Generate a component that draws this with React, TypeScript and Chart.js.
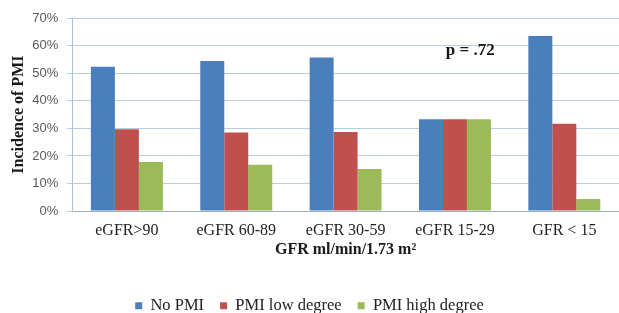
import React, { useEffect, useRef } from "react";
import { Chart, registerables } from "chart.js";

Chart.register(...registerables);

const categories = ["eGFR>90", "eGFR 60-89", "eGFR 30-59", "eGFR 15-29", "GFR < 15"];
const noPmi = [52.3, 54.4, 55.7, 33.3, 63.5];
const pmiLow = [29.7, 28.5, 28.7, 33.3, 31.7];
const pmiHigh = [17.8, 16.8, 15.3, 33.3, 4.4];
const seriesNames = ["No PMI", "PMI low degree", "PMI high degree"];
const yTicks = [0, 10, 20, 30, 40, 50, 60, 70];
const xTitle = "GFR ml/min/1.73 m²";
const yTitle = "Incidence of PMI";
const pValueText = "p = .72";
const pValueAt = { x: 3.14, y: 58.3 };

const SERIF = "'Liberation Serif', 'Times New Roman', serif";
const SANS = "'Liberation Sans', Arial, sans-serif";

const pValuePlugin = {
  id: "pValue",
  afterDraw(chart: any) {
    const { ctx, scales } = chart;
    const x = scales.x.getPixelForValue(pValueAt.x);
    const y = scales.y.getPixelForValue(pValueAt.y);
    ctx.save();
    ctx.font = `bold 17px ${SERIF}`;
    ctx.fillStyle = "#151515";
    ctx.textAlign = "center";
    ctx.textBaseline = "middle";
    ctx.fillText(pValueText, x, y);
    ctx.restore();
  },
};

export default function App() {
  const ref = useRef<HTMLCanvasElement>(null);
  useEffect(() => {
    if (!ref.current) return;
    const chart = new Chart(ref.current, {
      type: "bar",
      data: {
        labels: categories,
        datasets: [
          { label: seriesNames[0], data: noPmi, backgroundColor: "#4a7ebd" },
          { label: seriesNames[1], data: pmiLow, backgroundColor: "#c0504d" },
          { label: seriesNames[2], data: pmiHigh, backgroundColor: "#9bbb59" },
        ],
      },
      options: {
        responsive: false,
        animation: false,
        layout: { padding: { top: 18, bottom: -11, left: 0, right: 0 } },
        datasets: { bar: { categoryPercentage: 0.658, barPercentage: 1 } },
        plugins: {
          tooltip: { enabled: false },
          legend: {
            position: "bottom",
            labels: {
              boxWidth: 7,
              boxHeight: 7,
              padding: 16,
              color: "#222",
              font: { family: SERIF, size: 16.5 },
            },
          },
        },
        scales: {
          x: {
            grid: { display: false, drawTicks: false },
            border: { color: "#9db3c8", width: 1 },
            ticks: { color: "#222", padding: 10, font: { family: SERIF, size: 16 } },
            title: {
              display: true,
              text: xTitle,
              color: "#1a1a1a",
              font: { family: SERIF, size: 16, weight: "bold" },
              padding: { top: -10, bottom: 22 },
            },
          },
          y: {
            min: 0,
            max: 70,
            afterBuildTicks(scale: any) {
              scale.ticks = yTicks.map((v) => ({ value: v }));
            },
            grid: { color: "#b5cde3", tickLength: 5, drawTicks: true },
            border: { color: "#a9c2da", width: 1 },
            ticks: {
              color: "#595959",
              padding: 9,
              font: { family: SANS, size: 13 },
              callback: (v: any) => `${v}%`,
            },
            title: {
              display: true,
              text: yTitle,
              color: "#1a1a1a",
              font: { family: SERIF, size: 16, weight: "bold" },
              padding: { top: 9, bottom: -5 },
            },
          },
        },
      },
      plugins: [pValuePlugin],
    } as any);
    return () => chart.destroy();
  }, []);
  return (
    <div style={{ position: "fixed", left: 0, top: 0, width: 619, height: 313, background: "#fff" }}>
      <canvas ref={ref} width={619} height={313} />
    </div>
  );
}
